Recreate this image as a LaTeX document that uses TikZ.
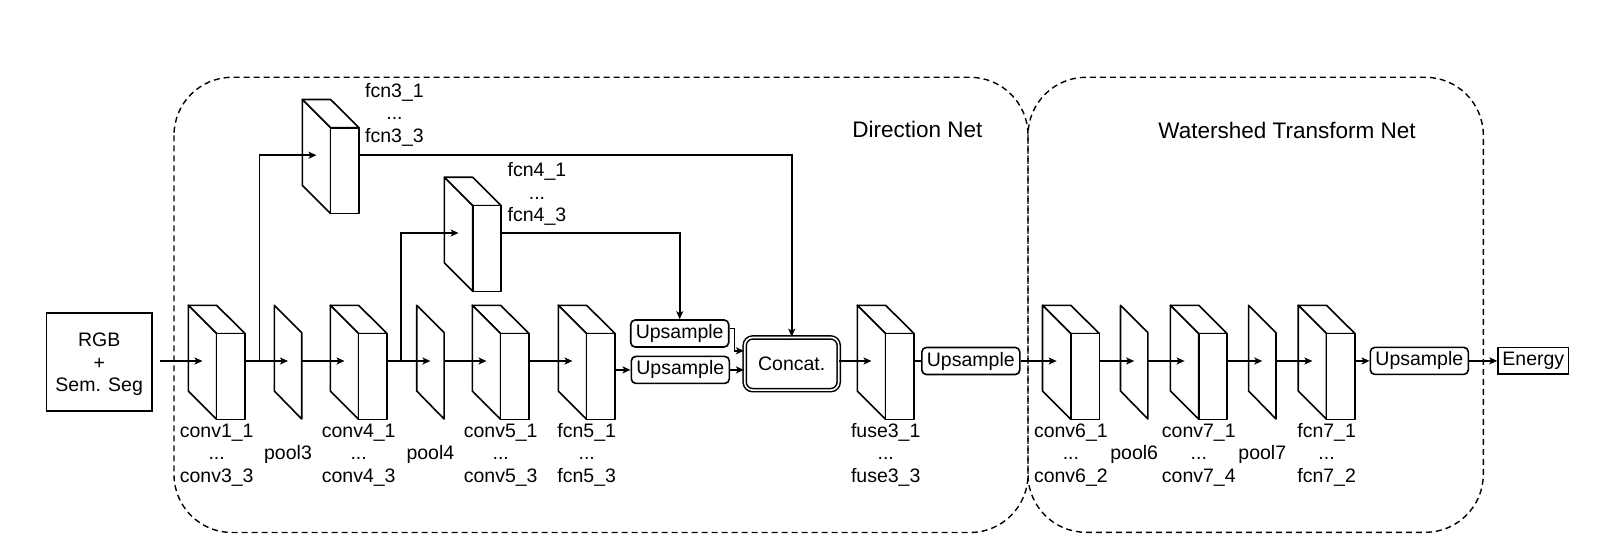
\documentclass[tikz,border=0pt]{standalone}
\usepackage{fontspec}
\setmainfont{Liberation Sans}
\usetikzlibrary{arrows.meta,calc}
\tikzset{
  cube/.pic={
    \draw[blk] (0,0) -- (28.3,0) -- (56.8,28.3) -- (28.3,28.3) -- cycle;
    \draw[blk] (0,0) -- (28.3,28.3) -- (28.3,114) -- (0,85.7) -- cycle;
    \draw[blk] (28.3,28.3) rectangle (56.8,114);
    \coordinate (-in) at (14.2,55.7);
    \coordinate (-out) at (56.8,55.7);
    \coordinate (-lab) at (28.4,149.5);
  },
  poolpl/.pic={
    \draw[blk] (0,0) -- (27.4,27.4) -- (27.4,113.7) -- (0,85.7) -- cycle;
    \coordinate (-in) at (13.7,55.7);
    \coordinate (-out) at (27.4,55.7);
    \coordinate (-lab) at (13.7,149.5);
  },
}
\begin{document}
\begin{tikzpicture}[x=1pt,y=-1pt,
  font=\fontsize{19.5}{22.5}\selectfont,
  ln/.style={line width=1.6pt},
  blk/.style={draw, fill=white, line width=1.6pt, line join=round},
  arr/.style={line width=1.6pt, -{Stealth[length=8pt,width=7pt,inset=2pt]}},
  lab/.style={align=center, inner sep=0pt},
  upbox/.style={draw, line width=1.6pt, rounded corners=4.5pt, minimum width=98pt, minimum height=27pt, inner sep=0pt},
  plainbox/.style={draw, line width=1.6pt, inner sep=0pt, align=center},
  region/.style={draw, line width=1.4pt, dash pattern=on 6pt off 4pt, rounded corners=58pt},
  title/.style={font=\fontsize{22.5}{26}\selectfont, inner sep=0pt},
]
\useasboundingbox (0,0) rectangle (1621,556);

% regions
\draw[region] (174,77.3) rectangle (1028,532.5);
\draw[region] (1028,77.3) rectangle (1483.3,532.3);
\node[title] (tdir) at (917.5,129.3) {Direction Net};
\node[title] (twat) at (1287,130) {Watershed Transform Net};

% input / output boxes
\node[plainbox, minimum width=105.5pt, minimum height=98pt] (rgb) at (99.2,362.2) {};
\node[lab] (rgbtxt) at (99.2,364.5) {RGB\\+\\Sem. Seg};
\node[plainbox, minimum width=70.4pt, minimum height=26.7pt] (energy) at (1533.3,360.9) {Energy};

% upsample and concat
\node[upbox] (up1) at (679.7,333.5) {Upsample};
\node[upbox] (up2) at (680.3,369.9) {Upsample};
\node[upbox] (up3) at (970.8,361) {Upsample};
\node[upbox] (up4) at (1419.3,360.9) {Upsample};
\node[draw, line width=1.5pt, double, double distance=1.6pt, rounded corners=8pt,
      minimum width=94pt, minimum height=52.7pt, inner sep=0pt] (cat) at (791.7,363.8) {Concat.};

% blocks
\pic (conv1) at (188.3,305.3) {cube};
\pic (pool3) at (274.3,305.3) {poolpl};
\pic (conv4) at (330.3,305.3) {cube};
\pic (pool4) at (416.7,305.3) {poolpl};
\pic (conv5) at (472.3,305.3) {cube};
\pic (fcn5) at (558.3,305.3) {cube};
\pic (fuse3) at (857.3,305.3) {cube};
\pic (conv6) at (1042.5,305.3) {cube};
\pic (pool6) at (1120.5,305.3) {poolpl};
\pic (conv7) at (1170.4,305.3) {cube};
\pic (pool7) at (1248.6,305.3) {poolpl};
\pic (fcn7) at (1298.2,305.3) {cube};
\pic (fcn3) at (302.3,99.5) {cube};
\pic (fcn4) at (444.4,177.3) {cube};

% labels
\node[lab] (lconv1) at (conv1-lab) {conv1\_1\\...\\conv3\_3};
\node[lab] (lpool3) at (pool3-lab) {pool3};
\node[lab] (lconv4) at (conv4-lab) {conv4\_1\\...\\conv4\_3};
\node[lab] (lpool4) at (pool4-lab) {pool4};
\node[lab] (lconv5) at (conv5-lab) {conv5\_1\\...\\conv5\_3};
\node[lab] (lfcn5) at (fcn5-lab) {fcn5\_1\\...\\fcn5\_3};
\node[lab] (lfuse3) at (fuse3-lab) {fuse3\_1\\...\\fuse3\_3};
\node[lab] (lconv6) at (conv6-lab) {conv6\_1\\...\\conv6\_2};
\node[lab] (lpool6) at (pool6-lab) {pool6};
\node[lab] (lconv7) at (conv7-lab) {conv7\_1\\...\\conv7\_4};
\node[lab] (lpool7) at (pool7-lab) {pool7};
\node[lab] (lfcn7) at (fcn7-lab) {fcn7\_1\\...\\fcn7\_2};
\node[lab] (lfcn3) at (394.5,114.5) {fcn3\_1\\...\\fcn3\_3};
\node[lab] (lfcn4) at (537,194) {fcn4\_1\\...\\fcn4\_3};

% connectors
\draw[arr, shorten <=7pt] (rgb.east |- conv1-in) -- (conv1-in);
\draw[arr] (conv1-out) -- (pool3-in);
\coordinate (b1) at ([xshift=14.3pt]conv1-out);
\draw[arr] (b1) |- (fcn3-in);
\draw[arr] (pool3-out) -- (conv4-in);
\draw[arr] (conv4-out) -- (pool4-in);
\coordinate (b2) at ([xshift=14pt]conv4-out);
\draw[arr] (b2) |- (fcn4-in);
\draw[arr] (pool4-out) -- (conv5-in);
\draw[arr] (conv5-out) -- (fcn5-in);
\draw[arr] (fcn5-out |- up2.west) -- (up2.west);
\draw[arr] (fcn4-out) -| (up1.north);
\draw[arr] (fcn3-out) -| (cat.north);
\draw[arr] ([yshift=5pt]up1.east) -- ++(5,0) |- ([yshift=13pt]cat.west);
\draw[arr] (up2.east) -- (up2.east -| cat.west);
\draw[arr] (cat.east |- fuse3-in) -- (fuse3-in);
\draw[ln] (fuse3-out) -- (up3.west);
\draw[arr] (up3.east) -- (conv6-in);
\draw[arr] (conv6-out) -- (pool6-in);
\draw[arr] (pool6-out) -- (conv7-in);
\draw[arr] (conv7-out) -- (pool7-in);
\draw[arr] (pool7-out) -- (fcn7-in);
\draw[arr] (fcn7-out) -- (up4.west);
\draw[arr] (up4.east) -- (energy.west);
\end{tikzpicture}
\end{document}
